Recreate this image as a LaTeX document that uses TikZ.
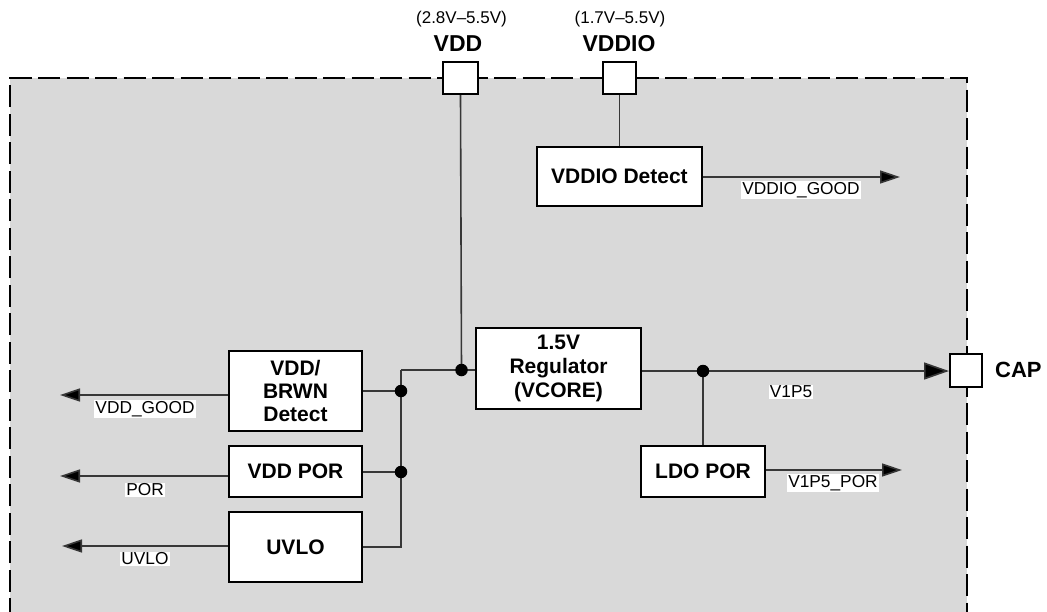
\documentclass[tikz,border=0pt]{standalone}
\usepackage{fontspec}
\setmainfont{Liberation Sans}
\usetikzlibrary{arrows.meta}
\definecolor{bggray}{RGB}{217,217,217}
\definecolor{wirecol}{RGB}{55,55,55}
\tikzset{
  blk/.style={draw=black, line width=2.2pt, fill=white, inner sep=0pt, align=center,
    font=\fontsize{21}{24}\selectfont\bfseries},
  pin/.style={draw=black, line width=2pt, fill=white, inner sep=0pt},
  wire/.style={draw=wirecol, line width=1.6pt},
  arr/.style={wire, -{Triangle[length=20pt,width=13pt,fill=black]}},
  bigarr/.style={wire, -{Triangle[length=25pt,width=17pt,fill=black]}},
  sig/.style={fill=white, inner sep=1.2pt, font=\fontsize{17.3}{19}\selectfont},
  pinlbl/.style={font=\fontsize{23}{25}\selectfont\bfseries, inner sep=0pt},
  rng/.style={font=\fontsize{17}{19}\selectfont, inner sep=0pt},
  dot/.style={circle, fill=black, inner sep=0pt, minimum size=12.5pt},
  border/.style={draw=black, line width=2.4pt, dash pattern=on 22pt off 6.5pt}
}
\begin{document}
\begin{tikzpicture}[x=1pt,y=-1pt]
\useasboundingbox (0,0) rectangle (1047,611);
% gray region
\fill[bggray] (10,78) rectangle (967,620);
\draw[border] (10,620) -- (10,78) -- (967,78) -- (967,620);

% pins
\node[pin, minimum width=35pt, minimum height=32pt] (vddpin) at (460.5,78) {};
\node[pin, minimum width=33pt, minimum height=32pt] (vddiopin) at (619.5,78) {};
\node[pin, minimum width=32pt, minimum height=33pt] (cappin) at (966,370) {};
\node[pinlbl] (vddlbl) at (458,44) {VDD};
\node[pinlbl] (vddiolbl) at (619,44) {VDDIO};
\node[rng] (vddrng) at (461.5,19) {(2.8V--5.5V)};
\node[rng] (vddiorng) at (620,19) {(1.7V--5.5V)};
\node[pinlbl, font=\fontsize{22}{24}\selectfont\bfseries, anchor=west] (caplbl) at (995,370) {CAP};

% blocks
\node[blk, minimum width=165pt, minimum height=59pt] (vddiodet) at (619.5,176.5) {VDDIO Detect};
\node[blk, minimum width=165pt, minimum height=81pt] (reg) at (558.5,368.5) {1.5V\\Regulator\\(VCORE)};
\node[blk, minimum width=124pt, minimum height=51pt] (ldo) at (703,471.5) {LDO POR};
\node[blk, minimum width=133pt, minimum height=80pt, font=\fontsize{21}{23}\selectfont\bfseries] (brwn) at (295.5,391) {VDD/\\BRWN\\Detect};
\node[blk, minimum width=133pt, minimum height=51pt] (vddpor) at (295.5,471.5) {VDD POR};
\node[blk, minimum width=133pt, minimum height=70pt] (uvlo) at (295.5,547) {UVLO};

% junction points
\coordinate (bustop) at (401,370);
\coordinate (busbot) at (401,547);
\coordinate (cvdd) at (461.5,370);
\coordinate (cbrwn) at (401,391);
\coordinate (cpor) at (401,472);
\coordinate (cout) at (703,371);

% wires
\draw[wire] (vddpin.south) -- (cvdd);
\draw[wire] (vddiopin.south) -- (vddiodet.north);
\draw[wire] (bustop) -- (reg.west |- bustop);
\draw[wire] (bustop) -- (busbot) -- (uvlo.east);
\draw[wire] (brwn.east |- cbrwn) -- (cbrwn);
\draw[wire] (vddpor.east |- cpor) -- (cpor);
\draw[wire] (reg.east |- cout) -- (cout);
\draw[bigarr] (cout) -- (cappin.west |- cout);
\draw[wire] (cout) -- (ldo.north);

% outputs
\coordinate (gdend) at (900,177);
\coordinate (ldoend) at (902,470);
\coordinate (vgend) at (60,395);
\coordinate (porend) at (60,476);
\coordinate (uvend) at (62,546);
\draw[arr] (vddiodet.east |- gdend) -- (gdend);
\draw[arr] (ldo.east |- ldoend) -- (ldoend);
\draw[arr] (brwn.west |- vgend) -- (vgend);
\draw[arr] (vddpor.west |- porend) -- (porend);
\draw[arr] (uvlo.west |- uvend) -- (uvend);

% junction dots
\node[dot] (jvdd) at (cvdd) {};
\node[dot] (jbrwn) at (cbrwn) {};
\node[dot] (jpor) at (cpor) {};
\node[dot] (jout) at (cout) {};

% signal labels
\node[sig] (lgood) at (801,190) {VDDIO\_GOOD};
\node[sig] (lv1p5) at (791,392) {V1P5};
\node[sig] (lv1p5por) at (833,483) {V1P5\_POR};
\node[sig] (lvddgood) at (145,409) {VDD\_GOOD};
\node[sig] (lpor) at (145,490) {POR};
\node[sig] (luvlo) at (145,559) {UVLO};
\end{tikzpicture}
\end{document}
